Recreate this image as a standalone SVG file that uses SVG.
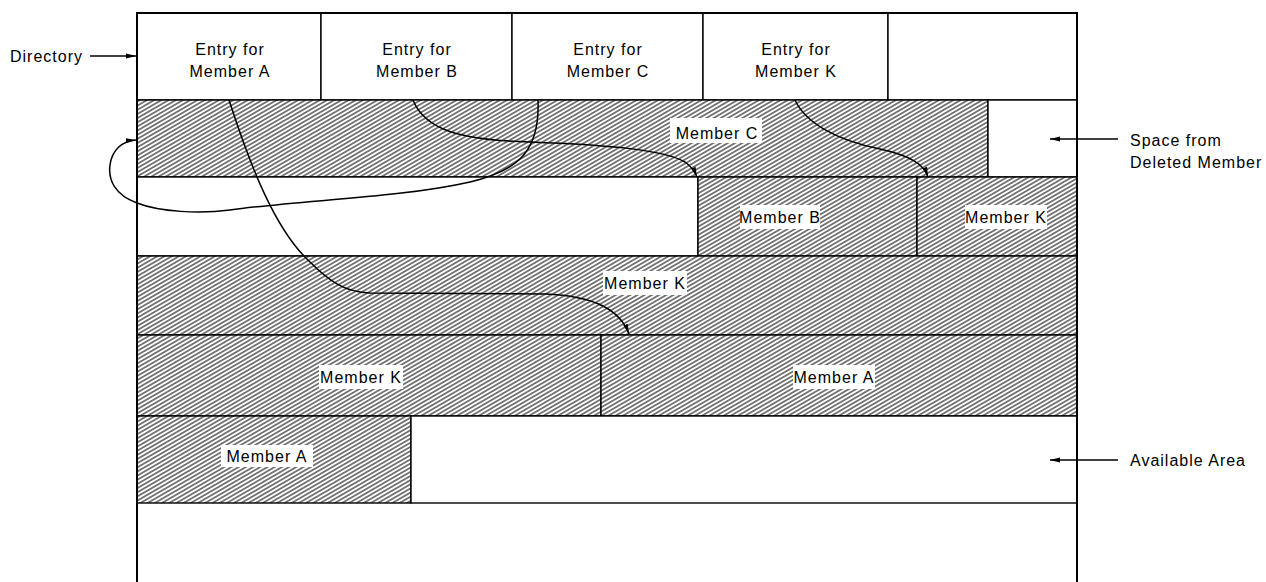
<svg xmlns="http://www.w3.org/2000/svg" width="1266" height="582" viewBox="0 0 1266 582">
<defs>
<pattern id="hatch" patternUnits="userSpaceOnUse" width="20" height="3.6" patternTransform="rotate(-30)">
<rect width="20" height="3.6" fill="#fff"/>
<line x1="0" y1="1.8" x2="20" y2="1.8" stroke="#000" stroke-width="1"/>
</pattern>
<marker id="ah" markerUnits="userSpaceOnUse" markerWidth="11" markerHeight="6" refX="10" refY="3" orient="auto">
<path d="M0,0.6 L10,3 L0,5.4 z" fill="#000"/>
</marker>
</defs>
<style>
.t{font-family:"Liberation Sans",Arial,sans-serif;font-size:16px;letter-spacing:1px;fill:#000}
.c{text-anchor:middle}
.box{stroke:#000;stroke-width:1.4;fill:#fff}
.hb{stroke:#000;stroke-width:1.4;fill:url(#hatch)}
.lb{fill:#fff}
.cn{fill:none;stroke:#000;stroke-width:1.5}
.ar{fill:none;stroke:#000;stroke-width:1.3}
</style>
<rect width="1266" height="582" fill="#fff"/>

<g id="directory">
<rect class="box" x="137" y="13" width="184" height="87"/>
<rect class="box" x="321" y="13" width="191" height="87"/>
<rect class="box" x="512" y="13" width="191" height="87"/>
<rect class="box" x="703" y="13" width="185" height="87"/>
<rect class="box" x="888" y="13" width="189" height="87"/>
<text class="t c" x="230" y="55">Entry for</text>
<text class="t c" x="230" y="77">Member A</text>
<text class="t c" x="417" y="55">Entry for</text>
<text class="t c" x="417" y="77">Member B</text>
<text class="t c" x="608" y="55">Entry for</text>
<text class="t c" x="608" y="77">Member C</text>
<text class="t c" x="796" y="55">Entry for</text>
<text class="t c" x="796" y="77">Member K</text>
</g>

<g id="memberC">
<rect class="hb" x="137" y="100" width="851" height="77"/>
</g>
<g id="deletedSpace">
<rect class="box" x="988" y="100" width="89" height="77"/>
</g>
<g id="freeRow2">
<rect class="box" x="137" y="177" width="561" height="79"/>
</g>
<g id="memberB">
<rect class="hb" x="698" y="177" width="219" height="79"/>
</g>
<g id="memberK1">
<rect class="hb" x="917" y="177" width="160" height="79"/>
</g>
<g id="memberK2">
<rect class="hb" x="137" y="256" width="940" height="79"/>
</g>
<g id="memberK3">
<rect class="hb" x="137" y="335" width="464" height="81"/>
</g>
<g id="memberA1">
<rect class="hb" x="601" y="335" width="476" height="81"/>
</g>
<g id="memberA2">
<rect class="hb" x="137" y="416" width="274" height="87"/>
</g>
<g id="availableArea">
<rect class="box" x="411" y="416" width="666" height="87"/>
</g>
<g id="outer">
<path d="M137,590 V13 H1077 V590" fill="none" stroke="#000" stroke-width="2"/>
</g>

<g id="connectors">
<path class="cn" marker-end="url(#ah)" d="M229,100 C250,165 275,230 310,262 C330,282 345,292 370,293 L545,294 C595,296 620,310 629,334"/>
<path class="cn" marker-end="url(#ah)" d="M413,100 C425,130 460,140 530,142 C610,145 665,150 685,162 C692,167 695,172 697,177"/>
<path class="cn" marker-end="url(#ah)" d="M538,100 C540,150 520,170 470,182 C400,198 300,200 230,210 C200,214 160,212 137,203 C115,195 108,180 110,165 C112,150 122,141 136,140"/>
<path class="cn" marker-end="url(#ah)" d="M795,100 C805,122 835,140 880,149 C912,156 924,165 928,177"/>
<path class="ar" marker-end="url(#ah)" d="M90,56 H136"/>
<path class="ar" marker-end="url(#ah)" d="M1118,139 H1050"/>
<path class="ar" marker-end="url(#ah)" d="M1118,460 H1050"/>
</g>

<g id="labels">
<rect class="lb" x="670" y="118" width="92" height="25"/>
<text class="t c" x="717" y="139">Member C</text>
<rect class="lb" x="740" y="205" width="80" height="24"/>
<text class="t c" x="780" y="223">Member B</text>
<rect class="lb" x="965" y="205" width="82" height="24"/>
<text class="t c" x="1006" y="223">Member K</text>
<rect class="lb" x="603" y="271" width="84" height="24"/>
<text class="t c" x="645" y="289">Member K</text>
<rect class="lb" x="319" y="365" width="84" height="24"/>
<text class="t c" x="361" y="383">Member K</text>
<rect class="lb" x="793" y="365" width="82" height="24"/>
<text class="t c" x="834" y="383">Member A</text>
<rect class="lb" x="221" y="445" width="92" height="22"/>
<text class="t c" x="267" y="462">Member A</text>
<text class="t" x="10" y="62">Directory</text>
<text class="t" x="1130" y="146">Space from</text>
<text class="t" x="1130" y="168">Deleted Member</text>
<text class="t" x="1130" y="466">Available Area</text>
</g>
</svg>
